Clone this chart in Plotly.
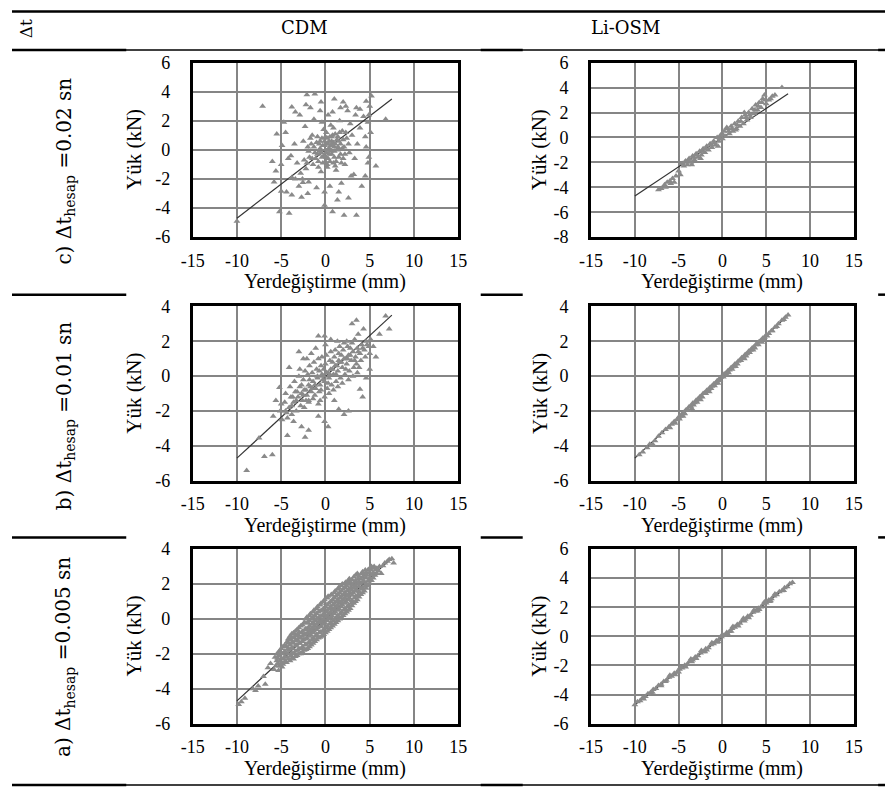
import plotly.graph_objects as go

W, H = 894, 796

# ---------------- text ----------------
col_headers = ["CDM", "Li-OSM"]
corner_label = "Δt"
row_labels = ["c) Δt<sub>hesap</sub> =0.02 sn",
              "b) Δt<sub>hesap</sub> =0.01 sn",
              "a) Δt<sub>hesap</sub> =0.005 sn"]
x_title = "Yerdeğiştirme (mm)"
y_title = "Yük (kN)"

# ---------------- ticks ----------------
x_tick_vals = [-15, -10, -5, 0, 5, 10, 15]
x_tick_text = ["-15", "-10", "-5", "0", "5", "10", "15"]
y_ticks_c_cdm = [-6, -4, -2, 0, 2, 4, 6]
y_ticks_c_li = [-8, -6, -4, -2, 0, 2, 4, 6]
y_ticks_b_cdm = [-6, -4, -2, 0, 2, 4]
y_ticks_b_li = [-6, -4, -2, 0, 2, 4]
y_ticks_a_cdm = [-6, -4, -2, 0, 2, 4]
y_ticks_a_li = [-6, -4, -2, 0, 2, 4, 6]

# ---------------- trend line ----------------
fit_x = [-10.0, 7.5]
fit_y = [-4.7, 3.5]
fit_x_li_a = [-10.0, 8.0]
fit_y_li_a = [-4.7, 3.7]

# ---------------- scatter data (x mm, y kN) ----------------
cdm_c_pts = [
    (-10.0, -4.9), (-7.1, 3.0), (-3.8, 2.95), (-2.1, 3.8), (-1.2, 3.85), (1.0, 3.5), (1.7, 2.9),
    (2.3, 3.0), (3.5, 2.9), (4.6, 3.35), (5.2, 3.7), (6.8, 2.1), (-4.7, 1.9), (-3.4, 2.6),
    (4.5, 0.9), (5.7, -1.1), (4.6, 0.2), (-6.0, -0.8), (-5.6, -1.45), (-5.0, -2.85), (-5.2, -4.25),
    (-4.1, -4.35), (-3.8, -3.1), (-2.7, -3.25), (-0.1, -3.8), (0.8, -4.25), (1.35, -3.45),
    (2.1, -4.5), (3.5, -4.5), (4.1, -2.5), (4.5, -1.8), (3.2, -1.7), (-0.1, -2.9), (-3.4, -2.0),
    (-3.0, -2.5), (-2.55, -2.25), (5.0, 3.0), (4.9, 2.4), (5.1, 1.2), (4.8, -0.9), (-5.8, -2.2),
    (-4.4, -2.9), (-2.0, -3.0), (1.5, -2.9), (2.6, -3.3), (-2.2, 3.1), (-0.5, 3.3), (0.3, 2.4),
    (2.0, 3.3), (3.9, 2.8), (-5.5, 1.1), (-4.9, 0.3), (-3.9, -0.4),
    (-2.5, 0.6), (-2.0, 0.2), (-1.8, -0.5), (-1.5, 1.0), (-1.2, -0.2), (-1.0, 0.5), (-0.8, -0.8),
    (-0.6, 0.1), (-0.4, 0.8), (-0.2, -0.4), (0.0, 0.0), (0.2, 0.4), (0.3, -0.6), (0.5, 0.9),
    (0.6, -0.1), (0.8, 0.3), (1.0, -0.5), (1.1, 1.1), (1.3, 0.0), (1.5, 0.6), (1.7, -0.3),
    (1.9, 1.3), (2.1, 0.2), (2.4, 0.8), (2.7, -0.2), (3.0, 1.0), (-0.3, 0.3), (0.1, -0.2),
    (0.4, 0.1), (0.7, 0.6), (0.9, -0.9), (-0.9, -0.3), (-1.4, -1.0), (-2.2, -1.3), (-2.8, -1.6),
    (-3.2, -0.9), (-2.6, -2.0), (-1.9, -2.2), (-0.5, -1.5), (0.2, -1.2), (1.2, -1.4), (2.2, -1.0),
    (3.3, -0.6), (3.6, 0.4), (2.8, 1.8), (1.6, 2.0), (0.6, 1.7), (-0.4, 1.9), (-1.3, 2.1),
    (-2.3, 1.6), (-3.5, 0.4), (-4.2, -0.6), (-3.8, -1.9), (-1.0, -2.6), (0.5, -2.5), (1.8, -2.3),
    (2.9, -1.8), (3.9, 1.5), (4.3, 2.3), (3.4, 2.4), (2.5, 2.7), (0.8, 2.6), (-0.6, 2.7),
    (-1.7, 2.9), (-2.9, 2.4), (-4.5, 1.2), (4.8, 1.9), (4.9, -0.5), (-5.0, -1.0), (-0.1, 0.6),
    (0.4, -0.3), (1.4, 0.9), (-0.7, -0.1), (0.1, 1.2), (1.0, 0.2), (-1.6, 0.4), (2.0, -0.6),
    (-2.4, -0.7), (0.0, -0.8), (0.6, 0.0),
    (-1.3, 0.2), (-1.1, -0.6), (-0.9, 0.9), (-0.7, 0.4), (-0.5, -0.2), (-0.3, -0.9), (-0.1, 0.3),
    (0.0, 0.9), (0.1, -0.5), (0.2, 0.8), (0.3, 0.0), (0.4, 0.6), (0.5, -0.8), (0.6, 0.3),
    (0.7, -0.3), (0.8, 1.0), (0.9, 0.5), (1.0, -0.1), (1.1, 0.4), (1.2, -0.8), (1.3, 0.7),
    (1.4, 0.2), (1.5, -0.5), (1.6, 1.2), (1.7, 0.4), (1.8, -0.9), (1.9, 0.1), (2.0, 0.7),
    (2.2, -0.3), (2.3, 1.2), (-1.9, -0.1), (-1.7, 0.8), (-1.5, -0.6), (-2.1, -0.9), (-0.2, 1.4),
    (0.9, 1.5), (0.2, -1.0), (1.1, -1.1), (-0.8, -1.2), (2.6, 0.4), (-0.6, 0.6), (0.3, 0.4),
    (0.7, 0.9), (1.5, 0.1), (-0.4, -0.5),
]

li_c_pts = [
    (-7.3, -4.2), (-7.0, -4.1), (-6.3, -3.6), (-6.0, -3.5), (-5.7, -3.3), (-5.5, -3.6), (-5.3, -3.1),
    (-5.0, -2.7), (-4.8, -3.0), (-4.6, -2.1), (-4.4, -2.3), (-4.2, -1.9), (-4.0, -2.2), (-3.8, -1.7),
    (-3.6, -2.0), (-3.4, -1.5), (-3.2, -1.8), (-3.0, -1.3), (-2.8, -1.6), (-2.6, -1.1), (-2.4, -1.4),
    (-2.2, -0.9), (-2.0, -1.2), (-1.8, -0.7), (-1.6, -1.0), (-1.4, -0.5), (-1.2, -0.8), (-1.0, -0.3),
    (-0.8, -0.6), (-0.6, 0.0), (-0.4, -0.3), (-0.2, 0.2), (0.0, -0.1), (0.2, 0.5), (0.4, 0.1),
    (0.6, 0.7), (0.8, 0.3), (1.0, 0.9), (1.2, 0.5), (1.4, 1.1), (1.6, 0.7), (1.8, 1.3), (2.0, 0.9),
    (2.2, 1.6), (2.4, 1.1), (2.6, 1.8), (2.8, 1.4), (3.0, 2.0), (3.2, 1.6), (3.4, 2.3), (3.6, 1.9),
    (3.8, 2.6), (4.0, 2.2), (4.2, 2.8), (4.4, 2.4), (4.6, 3.1), (4.8, 3.4), (5.0, 2.7), (5.3, 3.0),
    (5.7, 3.3), (6.8, 4.0), (0.5, 0.8), (-0.5, -0.7), (1.5, 0.6), (2.5, 2.0), (-2.5, -1.7),
    (-3.5, -2.2),
    (-4.3, -2.0), (-3.9, -1.9), (-3.3, -1.6), (-2.9, -1.4), (-2.3, -1.1), (-1.9, -0.9), (-1.3, -0.6),
    (-0.9, -0.4), (-0.3, -0.1), (0.1, 0.2), (0.7, 0.5), (1.1, 0.7), (1.7, 1.0), (2.1, 1.3),
    (2.7, 1.6), (3.1, 1.8), (3.7, 2.2), (4.1, 2.5), (4.5, 2.8), (4.9, 3.0), (5.5, 3.1), (6.0, 3.4),
    (-6.6, -3.8), (-5.9, -3.7), (-6.5, -4.0),
]

cdm_b_pts = [
    (-8.9, -5.4), (-6.9, -4.6), (-6.0, -4.5), (-7.5, -3.55), (-4.3, -3.4), (-2.3, -3.5), (-1.9, -3.1),
    (-2.7, -2.9), (0.3, -2.9), (-0.1, -2.6), (-0.8, -2.3), (2.1, -2.2), (2.6, -2.0), (3.9, -0.75),
    (5.7, 1.1), (5.4, 1.7), (4.3, 2.7), (3.5, 3.2), (3.0, 3.0), (6.8, 3.45), (7.2, 2.7), (6.1, 2.4),
    (3.7, 2.4), (-3.0, 1.4), (-2.5, 1.0), (-0.8, 2.3), (-0.1, 2.3), (0.6, 2.1), (1.35, 2.0),
    (-4.1, 0.5), (-5.2, -0.65), (-5.6, -1.4), (-4.5, -2.0), (-3.8, -1.7), (-1.9, -1.4), (4.2, -1.2),
    (1.5, -1.9), (-5.9, -2.3), (-3.6, -2.6), (5.0, 0.4), (4.6, -0.1),
    (-5.1, -2.0), (-4.9, -2.5), (-5.0, -1.6),
    (-4.6, -1.5), (-4.4, -2.1), (-4.5, -1.0), (-4.3, -2.4),
    (-4.1, -1.8), (-3.9, -1.2), (-4.0, -0.6), (-3.8, -2.2),
    (-3.6, -1.5), (-3.4, -0.9), (-3.5, -0.3), (-3.3, -2.0), (-3.7, -1.2),
    (-3.1, -1.2), (-2.9, -0.6), (-3.0, 0.0), (-2.8, -1.7), (-3.2, -0.9), (-2.9, 0.4),
    (-2.6, -1.4), (-2.4, -0.8), (-2.5, -0.2), (-2.3, 0.3), (-2.7, -1.0), (-2.4, -1.8),
    (-2.1, -1.1), (-1.9, -0.5), (-2.0, 0.1), (-1.8, 0.6), (-2.2, -0.8), (-1.9, -1.5), (-2.1, 1.0),
    (-1.6, -0.9), (-1.4, -0.3), (-1.5, 0.2), (-1.3, 0.8), (-1.7, -0.6), (-1.4, -1.3), (-1.6, 1.3),
    (-1.1, -0.7), (-0.9, -0.1), (-1.0, 0.4), (-0.8, 1.0), (-1.2, -1.1), (-0.9, 0.0), (-1.1, 1.6),
    (-0.8, -1.6), (-0.6, -0.5), (-0.4, 0.1), (-0.5, 0.6), (-0.3, -0.2), (-0.7, -0.9), (-0.4, 1.1),
    (-0.6, -1.4), (-0.1, -0.3), (0.1, 0.2), (0.0, 0.7), (0.2, -0.7), (-0.2, 0.0), (0.1, 1.2),
    (-0.1, -1.2), (0.0, 1.8), (0.4, -0.1), (0.6, 0.4), (0.5, 0.9), (0.7, -0.5), (0.3, 0.2),
    (0.6, 1.4), (0.4, -1.0), (0.9, 0.1), (1.1, 0.6), (1.0, 1.1), (1.2, -0.3), (0.8, 0.4),
    (1.1, 1.5), (0.9, -0.8), (1.0, -1.4), (1.4, 0.3), (1.6, 0.8), (1.5, 1.3), (1.7, -0.1),
    (1.3, 0.6), (1.6, 1.7), (1.4, -0.6), (1.9, 0.5), (2.1, 1.0), (2.0, 1.5), (2.2, 0.1),
    (1.8, 0.8), (2.1, 1.9), (1.9, -0.4), (2.4, 0.7), (2.6, 1.2), (2.5, 1.7), (2.7, 0.3),
    (2.3, 1.0), (2.6, -0.2), (2.4, 2.0), (2.9, 0.9), (3.1, 1.4), (3.0, 1.9), (3.2, 0.5),
    (2.8, 1.2), (3.1, 0.0), (3.4, 1.1), (3.6, 1.6), (3.5, 0.7), (3.7, 1.4), (3.3, 2.1),
    (3.6, 0.2), (3.9, 1.3), (4.1, 1.8), (4.0, 0.9), (4.2, 1.6), (3.8, 0.5), (4.4, 1.5),
    (4.6, 2.0), (4.5, 1.1), (4.7, 1.8), (4.9, 1.7), (5.1, 2.1), (5.0, 1.3),
    (-3.3, -1.4), (-2.7, -0.5), (-2.2, -1.4), (-1.8, -0.2), (-1.2, -0.5), (-0.7, 0.3), (-0.2, 0.4),
    (0.3, -0.4), (0.8, 0.8), (1.2, 0.1), (1.8, 1.2), (2.3, 0.4), (2.8, 1.6), (3.3, 0.9),
    (-1.5, -0.7), (-0.5, -0.8), (0.5, 0.1), (1.5, 0.9), (2.5, 1.0), (-2.5, -1.1),
]

li_b_pts = [
    (-9.5, -4.5), (-9.1, -4.35), (-8.6, -4.1), (-8.0, -3.95), (-7.7, -3.7), (-7.3, -3.45),
    (-6.9, -3.25), (-6.5, -3.05), (-6.1, -2.9), (-5.8, -2.75), (-5.5, -2.6), (-5.2, -2.5),
    (-5.0, -2.35), (-4.8, -2.3), (-4.6, -2.15), (-4.4, -2.1), (-4.2, -1.95), (-4.0, -1.9),
    (-3.8, -1.75), (-3.6, -1.72), (-3.4, -1.55), (-3.2, -1.52), (-3.0, -1.38), (-2.8, -1.33),
    (-2.6, -1.2), (-2.4, -1.14), (-2.2, -1.0), (-2.0, -0.95), (-1.8, -0.82), (-1.6, -0.77),
    (-1.4, -0.63), (-1.2, -0.58), (-1.0, -0.45), (-0.8, -0.4), (-0.6, -0.26), (-0.4, -0.21),
    (-0.2, -0.08), (0.0, -0.02), (0.2, 0.12), (0.4, 0.16), (0.6, 0.3), (0.8, 0.35), (1.0, 0.49),
    (1.2, 0.54), (1.4, 0.68), (1.6, 0.73), (1.8, 0.86), (2.0, 0.91), (2.2, 1.05), (2.4, 1.1),
    (2.6, 1.24), (2.8, 1.29), (3.0, 1.43), (3.2, 1.48), (3.4, 1.62), (3.6, 1.67), (3.8, 1.8),
    (4.0, 1.85), (4.2, 1.99), (4.4, 2.04), (4.6, 2.17), (4.8, 2.22), (5.0, 2.36), (5.3, 2.45),
    (5.6, 2.6), (6.0, 2.8), (6.4, 3.0), (6.8, 3.2), (7.2, 3.38), (7.5, 3.5),
    (-4.5, -2.3), (-3.5, -1.85), (-2.5, -1.35), (-1.5, -0.9), (-0.5, -0.4), (0.5, 0.05),
    (1.5, 0.55), (2.5, 1.0), (3.5, 1.5), (4.5, 1.95), (-7.9, -3.95), (-8.3, -3.9),
    (-6.0, -2.95), (-5.4, -2.7), (-4.9, -2.45), (-4.3, -2.15), (-3.9, -1.95), (-3.3, -1.65),
    (-2.9, -1.5), (-2.3, -1.2), (-1.9, -1.0), (-1.3, -0.7), (-0.9, -0.55), (-0.3, -0.25),
    (0.1, -0.05), (0.7, 0.2), (1.1, 0.4), (1.7, 0.7), (2.1, 0.9), (2.7, 1.15), (3.1, 1.35),
    (3.7, 1.62), (4.1, 1.8), (4.7, 2.1), (5.1, 2.3), (5.7, 2.6), (6.2, 2.85), (7.0, 3.25),
]

cdm_a_pts = [
    (-9.8, -4.9), (-9.5, -4.75), (-9.1, -4.55), (-8.2, -4.0), (-7.9, -4.1), (-7.6, -3.85),
    (-7.0, -3.3), (-6.8, -3.75), (-6.5, -2.8), (-6.2, -2.55), (-5.8, -2.9), (-5.3, -2.95),
    (-4.9, -2.75), (-5.6, -2.7), (-5.5, -2.4), (-5.7, -2.2),
    (-5.2, -2.7), (-5.1, -2.4), (-5.3, -2.1), (-5.2, -1.85),
    (-4.8, -2.6), (-4.7, -2.3), (-4.9, -2.0), (-4.8, -1.6),
    (-4.4, -2.5), (-4.3, -2.2), (-4.5, -1.9), (-4.4, -1.6), (-4.3, -1.3),
    (-4.0, -2.4), (-3.9, -2.1), (-4.1, -1.8), (-4.0, -1.5), (-3.9, -1.2), (-4.0, -1.0),
    (-3.6, -2.3), (-3.5, -2.0), (-3.7, -1.7), (-3.6, -1.4), (-3.5, -1.1), (-3.6, -0.8),
    (-3.2, -2.1), (-3.1, -1.8), (-3.3, -1.5), (-3.2, -1.2), (-3.1, -0.9), (-3.2, -0.6),
    (-2.8, -2.0), (-2.7, -1.7), (-2.9, -1.4), (-2.8, -1.1), (-2.7, -0.8), (-2.8, -0.4),
    (-2.4, -1.8), (-2.3, -1.5), (-2.5, -1.2), (-2.4, -0.9), (-2.3, -0.6), (-2.4, -0.2),
    (-2.0, -1.7), (-1.9, -1.4), (-2.1, -1.1), (-2.0, -0.8), (-1.9, -0.5), (-2.0, -0.2), (-2.1, 0.1),
    (-1.6, -1.5), (-1.5, -1.2), (-1.7, -0.9), (-1.6, -0.6), (-1.5, -0.3), (-1.6, 0.0), (-1.7, 0.3),
    (-1.2, -1.3), (-1.1, -1.0), (-1.3, -0.7), (-1.2, -0.4), (-1.1, -0.1), (-1.2, 0.2), (-1.3, 0.5),
    (-0.8, -1.1), (-0.7, -0.8), (-0.9, -0.5), (-0.8, -0.2), (-0.7, 0.1), (-0.8, 0.4), (-0.9, 0.7),
    (-0.4, -1.0), (-0.3, -0.7), (-0.5, -0.4), (-0.4, -0.1), (-0.3, 0.2), (-0.4, 0.5), (-0.5, 0.9),
    (0.0, -0.8), (0.1, -0.5), (-0.1, -0.2), (0.0, 0.1), (0.1, 0.4), (0.0, 0.7), (-0.1, 1.1),
    (0.4, -0.6), (0.5, -0.3), (0.3, 0.0), (0.4, 0.3), (0.5, 0.6), (0.4, 0.9), (0.3, 1.3),
    (0.8, -0.4), (0.9, -0.1), (0.7, 0.2), (0.8, 0.5), (0.9, 0.8), (0.8, 1.1), (0.7, 1.4),
    (1.2, -0.2), (1.3, 0.1), (1.1, 0.4), (1.2, 0.7), (1.3, 1.0), (1.2, 1.3), (1.1, 1.6),
    (1.6, 0.0), (1.7, 0.3), (1.5, 0.6), (1.6, 0.9), (1.7, 1.2), (1.6, 1.5), (1.5, 1.8),
    (2.0, 0.2), (2.1, 0.5), (1.9, 0.8), (2.0, 1.1), (2.1, 1.4), (2.0, 1.7), (1.9, 2.0),
    (2.4, 0.4), (2.5, 0.7), (2.3, 1.0), (2.4, 1.3), (2.5, 1.6), (2.4, 1.9), (2.3, 2.1),
    (2.8, 0.6), (2.9, 0.9), (2.7, 1.2), (2.8, 1.5), (2.9, 1.8), (2.8, 2.1), (2.7, 2.3),
    (3.2, 0.9), (3.3, 1.2), (3.1, 1.5), (3.2, 1.8), (3.3, 2.1), (3.2, 2.4),
    (3.6, 1.1), (3.7, 1.4), (3.5, 1.7), (3.6, 2.0), (3.7, 2.3), (3.6, 2.6),
    (4.0, 1.4), (4.1, 1.7), (3.9, 2.0), (4.0, 2.3), (4.1, 2.6),
    (4.4, 1.6), (4.5, 1.9), (4.3, 2.2), (4.4, 2.5), (4.5, 2.8),
    (4.8, 1.9), (4.9, 2.2), (4.7, 2.5), (4.8, 2.8),
    (5.2, 2.2), (5.3, 2.5), (5.1, 2.8), (5.2, 3.0),
    (5.6, 2.5), (5.7, 2.8), (5.5, 3.0),
    (6.0, 2.75), (6.1, 3.0), (6.3, 2.6),
    (6.5, 3.05), (6.7, 3.2), (7.0, 3.3), (7.2, 3.4), (7.5, 3.45), (7.7, 3.2),
    (-5.4, -2.55), (-5.4, -2.25), (-5.4, -1.95),
    (-5.0, -2.55), (-5.0, -2.25), (-5.0, -1.95), (-5.0, -1.7),
    (-4.6, -2.45), (-4.6, -2.15), (-4.6, -1.85), (-4.6, -1.5),
    (-4.2, -2.3), (-4.2, -2.0), (-4.2, -1.7), (-4.2, -1.4), (-4.2, -1.15),
    (-3.8, -2.25), (-3.8, -1.95), (-3.8, -1.65), (-3.8, -1.35), (-3.8, -1.05), (-3.8, -0.85),
    (-3.4, -2.15), (-3.4, -1.85), (-3.4, -1.55), (-3.4, -1.25), (-3.4, -0.95), (-3.4, -0.7),
    (-3.0, -2.0), (-3.0, -1.7), (-3.0, -1.4), (-3.0, -1.1), (-3.0, -0.8), (-3.0, -0.5),
    (-2.6, -1.9), (-2.6, -1.6), (-2.6, -1.3), (-2.6, -1.0), (-2.6, -0.7), (-2.6, -0.35),
    (-2.2, -1.75), (-2.2, -1.45), (-2.2, -1.15), (-2.2, -0.85), (-2.2, -0.55), (-2.2, -0.25), (-2.2, 0.0),
    (-1.8, -1.6), (-1.8, -1.3), (-1.8, -1.0), (-1.8, -0.7), (-1.8, -0.4), (-1.8, -0.1), (-1.8, 0.2),
    (-1.4, -1.4), (-1.4, -1.1), (-1.4, -0.8), (-1.4, -0.5), (-1.4, -0.2), (-1.4, 0.1), (-1.4, 0.4),
    (-1.0, -1.2), (-1.0, -0.9), (-1.0, -0.6), (-1.0, -0.3), (-1.0, 0.0), (-1.0, 0.3), (-1.0, 0.6),
    (-0.6, -1.05), (-0.6, -0.75), (-0.6, -0.45), (-0.6, -0.15), (-0.6, 0.15), (-0.6, 0.45), (-0.6, 0.8),
    (-0.2, -0.9), (-0.2, -0.6), (-0.2, -0.3), (-0.2, 0.0), (-0.2, 0.3), (-0.2, 0.6), (-0.2, 1.0),
    (0.2, -0.7), (0.2, -0.4), (0.2, -0.1), (0.2, 0.2), (0.2, 0.5), (0.2, 0.8), (0.2, 1.2),
    (0.6, -0.5), (0.6, -0.2), (0.6, 0.1), (0.6, 0.4), (0.6, 0.7), (0.6, 1.0), (0.6, 1.35),
    (1.0, -0.3), (1.0, 0.0), (1.0, 0.3), (1.0, 0.6), (1.0, 0.9), (1.0, 1.2), (1.0, 1.5),
    (1.4, -0.1), (1.4, 0.2), (1.4, 0.5), (1.4, 0.8), (1.4, 1.1), (1.4, 1.4), (1.4, 1.7),
    (1.8, 0.1), (1.8, 0.4), (1.8, 0.7), (1.8, 1.0), (1.8, 1.3), (1.8, 1.6), (1.8, 1.9),
    (2.2, 0.3), (2.2, 0.6), (2.2, 0.9), (2.2, 1.2), (2.2, 1.5), (2.2, 1.8), (2.2, 2.05),
    (2.6, 0.5), (2.6, 0.8), (2.6, 1.1), (2.6, 1.4), (2.6, 1.7), (2.6, 2.0), (2.6, 2.2),
    (3.0, 0.75), (3.0, 1.05), (3.0, 1.35), (3.0, 1.65), (3.0, 1.95), (3.0, 2.25),
    (3.4, 1.0), (3.4, 1.3), (3.4, 1.6), (3.4, 1.9), (3.4, 2.2), (3.4, 2.5),
    (3.8, 1.25), (3.8, 1.55), (3.8, 1.85), (3.8, 2.15), (3.8, 2.45),
    (4.2, 1.5), (4.2, 1.8), (4.2, 2.1), (4.2, 2.4), (4.2, 2.7),
    (4.6, 1.75), (4.6, 2.05), (4.6, 2.35), (4.6, 2.65),
    (5.0, 2.05), (5.0, 2.35), (5.0, 2.65), (5.0, 2.9),
    (5.4, 2.35), (5.4, 2.65), (5.4, 2.9),
    (5.8, 2.6), (5.8, 2.9),
]

li_a_pts = [
    (-10.0, -4.70), (-9.7, -4.50), (-9.4, -4.42), (-9.1, -4.22), (-8.8, -4.14), (-8.5, -3.94),
    (-8.2, -3.86), (-7.9, -3.66), (-7.6, -3.58), (-7.3, -3.38), (-7.0, -3.30), (-6.7, -3.10),
    (-6.4, -3.02), (-6.1, -2.82), (-5.8, -2.74), (-5.5, -2.54), (-5.2, -2.46), (-4.9, -2.26),
    (-4.6, -2.18), (-4.3, -1.98), (-4.0, -1.90), (-3.7, -1.70), (-3.4, -1.62), (-3.1, -1.42),
    (-2.8, -1.34), (-2.5, -1.14), (-2.2, -1.06), (-1.9, -0.86), (-1.6, -0.78), (-1.3, -0.58),
    (-1.0, -0.50), (-0.7, -0.30), (-0.4, -0.22), (-0.1, -0.02), (0.2, 0.06), (0.5, 0.26),
    (0.8, 0.34), (1.1, 0.54), (1.4, 0.62), (1.7, 0.82), (2.0, 0.90), (2.3, 1.10), (2.6, 1.18),
    (2.9, 1.38), (3.2, 1.46), (3.5, 1.66), (3.8, 1.74), (4.1, 1.94), (4.4, 2.02), (4.7, 2.22),
    (5.0, 2.30), (5.3, 2.50), (5.6, 2.58), (5.9, 2.78), (6.2, 2.86), (6.5, 3.06), (6.8, 3.14),
    (7.1, 3.34), (7.4, 3.42), (7.7, 3.62), (8.0, 3.70),
    (-6.0, -2.68), (-5.4, -2.64), (-4.8, -2.14), (-4.2, -2.10), (-3.6, -1.56), (-3.0, -1.52),
    (-2.4, -0.98), (-1.8, -0.94), (-1.2, -0.44), (-0.6, -0.40), (0.0, 0.12), (0.6, 0.16),
    (1.2, 0.68), (1.8, 0.72), (2.4, 1.24), (3.0, 1.28), (3.6, 1.80), (4.2, 1.84), (4.8, 2.36),
    (5.4, 2.40), (6.0, 2.92),
    (-9.0, -4.3), (-8.0, -3.85), (-7.0, -3.4), (-6.5, -3.1), (-5.0, -2.45), (-3.5, -1.75),
    (-2.0, -1.05), (-0.5, -0.35), (1.0, 0.35), (2.5, 1.05), (4.0, 1.75), (5.5, 2.45), (7.0, 3.15),
]

# ---------------- layout geometry (pixels) ----------------
col_px = {"cdm": (185, 457), "li": (593, 862)}
row_px = {"c": (54, 233), "b": (304, 483), "a": (553, 732)}
row_label_y = {"c": 165, "b": 416, "a": 664}
ytitle_offset = {"cdm": 60, "li": 53}

panels = [
    (cdm_c_pts, y_ticks_c_cdm, "cdm", "c", fit_x, fit_y),
    (li_c_pts, y_ticks_c_li, "li", "c", fit_x, fit_y),
    (cdm_b_pts, y_ticks_b_cdm, "cdm", "b", fit_x, fit_y),
    (li_b_pts, y_ticks_b_li, "li", "b", fit_x, fit_y),
    (cdm_a_pts, y_ticks_a_cdm, "cdm", "a", fit_x, fit_y),
    (li_a_pts, y_ticks_a_li, "li", "a", fit_x_li_a, fit_y_li_a),
]

FONT = "Liberation Serif"
LABEL_FONT = "DejaVu Serif"
GRID = "#858585"
MARK = "#8a8a8a"

fig = go.Figure()
annotations = []
layout_axes = {}


def px_x(p):
    return p / W


def px_y(p):
    return 1 - p / H


for i, (pts, yticks, col, row, fx, fy) in enumerate(panels, start=1):
    s = "" if i == 1 else str(i)
    xs = [p[0] for p in pts]
    ys = [p[1] for p in pts]
    fig.add_trace(go.Scatter(x=fx, y=fy, mode="lines",
                             line=dict(color="#333333", width=1.2),
                             xaxis="x" + s, yaxis="y" + s, showlegend=False,
                             hoverinfo="skip"))
    fig.add_trace(go.Scatter(x=xs, y=ys, mode="markers",
                             marker=dict(symbol="triangle-up", size=6, color=MARK,
                                         line=dict(width=0)),
                             xaxis="x" + s, yaxis="y" + s, showlegend=False))
    x0, x1 = col_px[col]
    y0, y1 = row_px[row]
    layout_axes["xaxis" + s] = dict(
        domain=[px_x(x0), px_x(x1)], range=[-15, 15], anchor="y" + s,
        tickmode="array", tickvals=x_tick_vals, ticktext=x_tick_text,
        showgrid=True, gridcolor=GRID, gridwidth=1.6, zeroline=False,
        showline=True, mirror=True, linecolor="black", linewidth=2.8,
        ticks="", ticklabelstandoff=5,
        tickfont=dict(family=FONT, size=18, color="black"), fixedrange=True)
    layout_axes["yaxis" + s] = dict(
        domain=[px_y(y1), px_y(y0)], range=[yticks[0], yticks[-1]], anchor="x" + s,
        tickmode="array", tickvals=yticks, ticktext=[str(v) for v in yticks],
        showgrid=True, gridcolor=GRID, gridwidth=1.6, zeroline=False,
        showline=True, mirror=True, linecolor="black", linewidth=2.8,
        ticks="", ticklabelstandoff=16,
        tickfont=dict(family=FONT, size=18, color="black"), fixedrange=True)
    # axis titles
    annotations.append(dict(x=px_x((x0 + x1) / 2), y=px_y(y1 + 46), xref="paper", yref="paper",
                            text=x_title, showarrow=False, xanchor="center", yanchor="middle",
                            font=dict(family=FONT, size=20, color="black")))
    annotations.append(dict(x=px_x(x0 - ytitle_offset[col]), y=px_y((y0 + y1) / 2),
                            xref="paper", yref="paper", text=y_title, textangle=-90,
                            showarrow=False, xanchor="center", yanchor="middle",
                            font=dict(family=FONT, size=21, color="black")))

# row labels
for row, lab in zip(["c", "b", "a"], row_labels):
    annotations.append(dict(x=px_x(54), y=px_y(row_label_y[row]), xref="paper", yref="paper",
                            text=lab, textangle=-90, showarrow=False,
                            xanchor="center", yanchor="middle",
                            font=dict(family=LABEL_FONT, size=20, color="black")))

# headers
annotations.append(dict(x=px_x(14), y=px_y(19), xref="paper", yref="paper", text=corner_label,
                        textangle=-90, showarrow=False, xanchor="center", yanchor="middle",
                        font=dict(family=LABEL_FONT, size=17, color="black")))
for cx, txt in zip([300, 628], col_headers):
    annotations.append(dict(x=px_x(cx), y=px_y(18), xref="paper", yref="paper", text=txt,
                            showarrow=False, xanchor="center", yanchor="middle",
                            font=dict(family=LABEL_FONT, size=18, color="black")))

# table rules
shapes = []


def hline(ypx, xa, xb, w):
    shapes.append(dict(type="line", xref="paper", yref="paper",
                       x0=px_x(xa), x1=px_x(xb), y0=px_y(ypx), y1=px_y(ypx),
                       line=dict(color="black", width=w), layer="below"))


hline(1.5, 0, W, 2.5)
hline(41, 0, W, 1.5)
hline(795, 0, W, 1.5)
for ypx in (41, 292, 541, 795):
    for xa, xb in ((0, 117), (480, 523), (887, W)):
        hline(ypx, xa, xb, 2.5)

fig.update_layout(width=W, height=H, margin=dict(l=0, r=0, t=0, b=0),
                  paper_bgcolor="white", plot_bgcolor="white", showlegend=False,
                  font=dict(family=FONT, color="black"),
                  annotations=annotations, shapes=shapes, **layout_axes)

fig.write_html("out.html")
